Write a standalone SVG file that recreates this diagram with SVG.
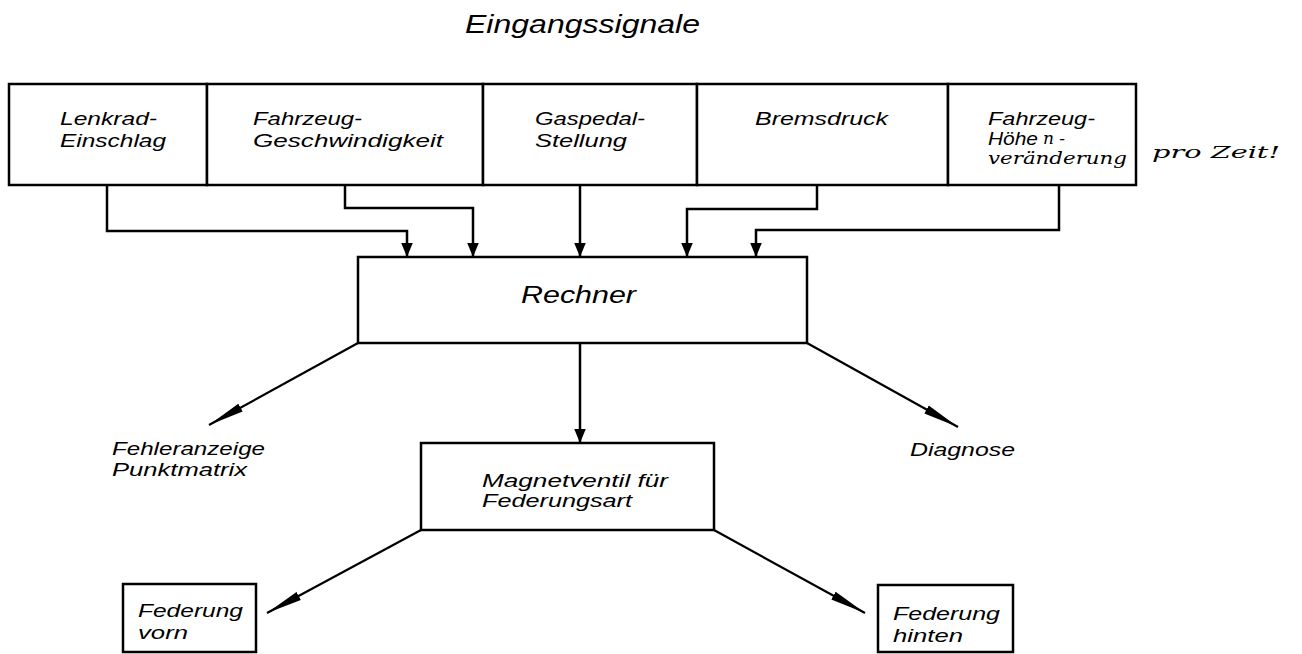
<svg xmlns="http://www.w3.org/2000/svg" width="1302" height="654" viewBox="0 0 1302 654">
<style>
.box{fill:#fff;stroke:#000;stroke-width:2.5}
.t{font-family:"Liberation Sans",Arial,sans-serif;font-style:italic;font-size:18px;fill:#000}
.big{font-size:25px}
.rt{font-size:23px}
.hw{font-family:"DejaVu Serif","Liberation Serif",serif;font-style:italic;font-size:17px;fill:#000}
.ln{fill:none;stroke:#000;stroke-width:2.5}
.dl{fill:none;stroke:#000;stroke-width:2.2}
</style>
<defs>
<marker id="ah" markerUnits="userSpaceOnUse" markerWidth="14" markerHeight="17" viewBox="0 0 17 14" refX="17" refY="7" orient="auto"><path d="M0,0 L17,7 L0,14 Z" fill="#000"/></marker>
<marker id="ad" markerUnits="userSpaceOnUse" markerWidth="36" markerHeight="10" viewBox="0 0 36 10" refX="36" refY="5" orient="auto"><path d="M0,0.5 L36,5 L0,9.5 Z" fill="#000"/></marker>
</defs>
<rect width="1302" height="654" fill="#fff"/>
<text class="t big" x="465" y="33" textLength="235" lengthAdjust="spacingAndGlyphs">Eingangssignale</text>

<g id="n-lenkrad"><rect class="box" x="9" y="84" width="198" height="101"/>
<text class="t" x="60" y="125" textLength="97" lengthAdjust="spacingAndGlyphs">Lenkrad-</text>
<text class="t" x="60" y="147" textLength="106" lengthAdjust="spacingAndGlyphs">Einschlag</text></g>
<g id="n-geschw"><rect class="box" x="207" y="84" width="276" height="101"/>
<text class="t" x="253" y="125" textLength="109" lengthAdjust="spacingAndGlyphs">Fahrzeug-</text>
<text class="t" x="253" y="147" textLength="190" lengthAdjust="spacingAndGlyphs">Geschwindigkeit</text></g>
<g id="n-gaspedal"><rect class="box" x="483" y="84" width="214" height="101"/>
<text class="t" x="535" y="125" textLength="110" lengthAdjust="spacingAndGlyphs">Gaspedal-</text>
<text class="t" x="535" y="147" textLength="92" lengthAdjust="spacingAndGlyphs">Stellung</text></g>
<g id="n-brems"><rect class="box" x="697" y="84" width="251" height="101"/>
<text class="t" x="755" y="125" textLength="133" lengthAdjust="spacingAndGlyphs">Bremsdruck</text></g>
<g id="n-hoehe"><rect class="box" x="948" y="84" width="188" height="101"/>
<text class="t" x="988" y="125" textLength="107" lengthAdjust="spacingAndGlyphs">Fahrzeug-</text>
<text class="t" x="988" y="145" textLength="50" lengthAdjust="spacingAndGlyphs">Höhe</text>
<text class="hw" x="1043" y="144" font-size="13">n -</text>
<text class="hw" x="988" y="164" textLength="139" lengthAdjust="spacingAndGlyphs">veränderung</text>
<text class="hw" x="1152" y="158" textLength="128" lengthAdjust="spacingAndGlyphs">pro Zeit!</text></g>

<g id="n-rechner"><rect class="box" x="358" y="257" width="449" height="86"/>
<text class="t rt" x="521" y="303" textLength="115" lengthAdjust="spacingAndGlyphs">Rechner</text></g>

<g id="n-fehler"><text class="t" x="112" y="455" textLength="153" lengthAdjust="spacingAndGlyphs">Fehleranzeige</text>
<text class="t" x="112" y="476" textLength="135" lengthAdjust="spacingAndGlyphs">Punktmatrix</text></g>
<g id="n-diagnose"><text class="t" x="910" y="456" textLength="105" lengthAdjust="spacingAndGlyphs">Diagnose</text></g>

<g id="n-magnet"><rect class="box" x="421" y="443" width="293" height="87"/>
<text class="t" x="482" y="487" textLength="186" lengthAdjust="spacingAndGlyphs">Magnetventil für</text>
<text class="t" x="482" y="507" textLength="150" lengthAdjust="spacingAndGlyphs">Federungsart</text></g>

<g id="n-vorn"><rect class="box" x="123" y="584" width="133" height="68"/>
<text class="t" x="138" y="617" textLength="105" lengthAdjust="spacingAndGlyphs">Federung</text>
<text class="t" x="138" y="639" textLength="50" lengthAdjust="spacingAndGlyphs">vorn</text></g>
<g id="n-hinten"><rect class="box" x="878" y="585" width="135" height="67"/>
<text class="t" x="893" y="620" textLength="107" lengthAdjust="spacingAndGlyphs">Federung</text>
<text class="t" x="893" y="642" textLength="70" lengthAdjust="spacingAndGlyphs">hinten</text></g>

<g id="connectors">
<path class="ln" d="M107,185 V231 H407 V257" marker-end="url(#ah)"/>
<path class="ln" d="M345,185 V208 H473 V257" marker-end="url(#ah)"/>
<path class="ln" d="M580,185 V257" marker-end="url(#ah)"/>
<path class="ln" d="M817,185 V209 H687 V257" marker-end="url(#ah)"/>
<path class="ln" d="M1059,185 V230 H756 V257" marker-end="url(#ah)"/>
<path class="dl" d="M358,343 L209,425" marker-end="url(#ad)"/>
<path class="ln" d="M580,343 V443" marker-end="url(#ah)"/>
<path class="dl" d="M807,343 L958,427" marker-end="url(#ad)"/>
<path class="dl" d="M421,530 L267,613" marker-end="url(#ad)"/>
<path class="dl" d="M714,530 L865,613" marker-end="url(#ad)"/>
</g>
</svg>
